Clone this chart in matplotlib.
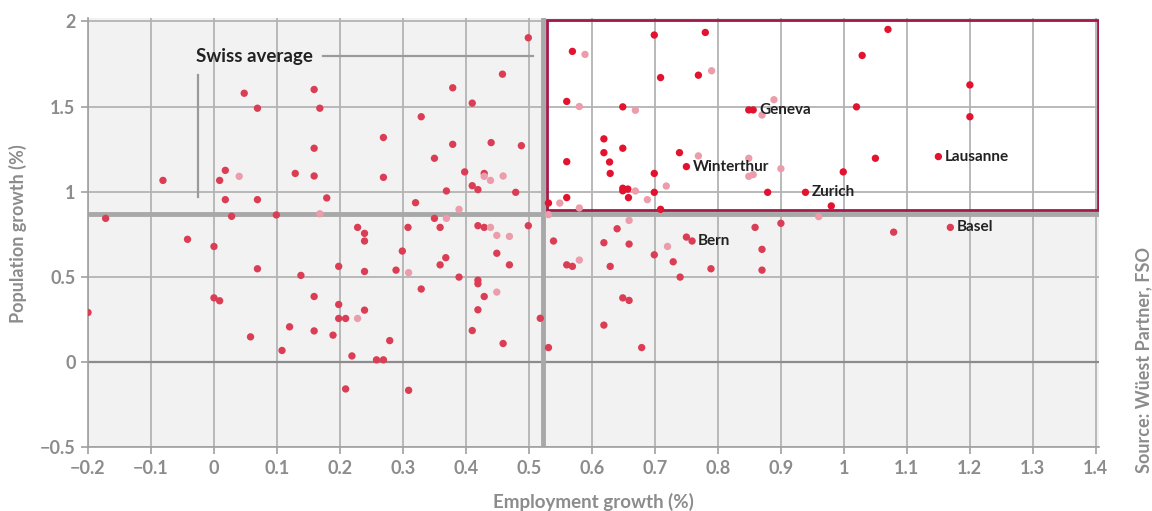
import matplotlib.pyplot as plt
from matplotlib.patches import Rectangle
from matplotlib.ticker import FuncFormatter

plt.rcParams['font.family'] = ['Lato', 'DejaVu Sans']

# regions: employment growth (%) vs population growth (%)
emp = [0.048, 0.069, 0.159, 0.168, 0.159, -0.081, 0.018, 0.009, 0.129, 0.159,
       0.018, 0.069, 0.179, -0.172, 0.028, 0.099, 0.228, 0.239,
       0.499, 0.458, 0.379, 0.41, 0.329, 0.269, 0.379, 0.44, 0.488, 0.35,
       0.269, 0.398, 0.429, 0.41, 0.419, 0.369, 0.479, 0.32, 0.35, 0.308,
       0.359, 0.419, 0.429, 0.499,
       0.569, 0.699, 0.709, 0.560, 0.649, 0.619, 0.619, 0.649, 0.628, 0.560,
       0.629, 0.699, 0.649, 0.657, 0.649, 0.658, 0.699, 0.560, 0.531, 0.709,
       0.780, 1.070, 1.029, 0.769, 0.849, 1.020, 0.739, 0.999, 1.050, 0.879,
       0.980, 0.859, 0.900, 1.079, 1.2, 1.2,
       -0.042, 0.0, 0.069, 0.138, 0.0, 0.009, 0.159, 0.198, 0.239, 0.239,
       0.198, 0.239, 0.198, 0.209, 0.120, 0.159, 0.189, 0.058, 0.108, 0.219,
       0.258, 0.209, -0.2,
       0.299, 0.368, 0.359, 0.289, 0.389, 0.449, 0.469, 0.419, 0.419, 0.329,
       0.429, 0.419, 0.518, 0.41, 0.459, 0.279, 0.269, 0.309, 0.531, 0.539,
       0.560, 0.569, 0.619, 0.640, 0.659, 0.629, 0.649, 0.659, 0.619, 0.679,
       0.699, 0.750, 0.729, 0.740, 0.789, 0.870, 0.870]
pop = [1.578, 1.49, 1.60, 1.49, 1.255, 1.066, 1.125, 1.066, 1.107, 1.092,
       0.953, 0.953, 0.963, 0.843, 0.855, 0.863, 0.79, 0.755,
       1.904, 1.69, 1.61, 1.52, 1.44, 1.318, 1.278, 1.288, 1.27, 1.196,
       1.084, 1.116, 1.107, 1.035, 1.012, 1.004, 0.996, 0.935, 0.843, 0.79,
       0.79, 0.80, 0.79, 0.80,
       1.824, 1.92, 1.67, 1.53, 1.498, 1.31, 1.229, 1.255, 1.174, 1.176,
       1.107, 1.107, 1.02, 1.015, 1.005, 0.965, 0.996, 0.965, 0.933, 0.896,
       1.935, 1.953, 1.80, 1.684, 1.48, 1.498, 1.229, 1.116, 1.196, 0.996,
       0.916, 0.79, 0.814, 0.762, 1.627, 1.44,
       0.72, 0.678, 0.547, 0.508, 0.376, 0.359, 0.384, 0.561, 0.531, 0.71,
       0.337, 0.304, 0.255, 0.255, 0.206, 0.182, 0.157, 0.147, 0.067, 0.035,
       0.012, -0.159, 0.29,
       0.651, 0.612, 0.57, 0.539, 0.498, 0.638, 0.57, 0.48, 0.459, 0.428,
       0.384, 0.306, 0.256, 0.184, 0.108, 0.125, 0.012, -0.167, 0.084, 0.71,
       0.57, 0.561, 0.70, 0.782, 0.692, 0.561, 0.376, 0.361, 0.216, 0.084,
       0.629, 0.733, 0.588, 0.498, 0.547, 0.661, 0.539]

# faint (lighter) points
emp_faint = [0.040, 0.168, 0.429, 0.439, 0.459, 0.389, 0.369, 0.439,
             0.589, 0.580, 0.669, 0.669, 0.688, 0.718, 0.549, 0.580, 0.531,
             0.790, 0.889, 0.870, 0.769, 0.849, 0.849, 0.856, 0.900, 0.96,
             0.228, 0.449, 0.469, 0.309, 0.449, 0.580, 0.659, 0.72]
pop_faint = [1.09, 0.87, 1.09, 1.066, 1.092, 0.896, 0.843, 0.79,
             1.806, 1.50, 1.478, 1.004, 0.953, 1.033, 0.933, 0.904, 0.865,
             1.71, 1.54, 1.45, 1.21, 1.196, 1.09, 1.10, 1.135, 0.853,
             0.255, 0.743, 0.737, 0.524, 0.41, 0.598, 0.831, 0.678]

cities = ['Geneva', 'Winterthur', 'Zurich', 'Lausanne', 'Bern', 'Basel']
city_emp = [0.856, 0.750, 0.939, 1.150, 0.759, 1.169]
city_pop = [1.48, 1.147, 0.996, 1.206, 0.71, 0.79]

avg_emp = 0.522
avg_pop = 0.87

fig = plt.figure(figsize=(11.52, 5.11), dpi=100)
ax = fig.add_axes([88 / 1152, 1 - 447 / 511, 1011 / 1152, 429 / 511])
ax.set_xlim(-0.2, 1.405)
ax.set_ylim(-0.5, 2.02)
ax.set_facecolor('#f2f2f2')

# highlighted quadrant
ax.add_patch(Rectangle((avg_emp + 0.007, avg_pop + 0.02), 1.405 - avg_emp - 0.009,
                       2.01 - avg_pop - 0.02, facecolor='white', edgecolor='none', zorder=0.2))
ax.add_patch(Rectangle((avg_emp + 0.007, avg_pop + 0.02), 1.405 - avg_emp - 0.009,
                       2.01 - avg_pop - 0.02, facecolor='none', edgecolor='#a3194b',
                       lw=2, zorder=3))

ax.set_axisbelow(True)
ax.grid(True, color='#b3b3b3', lw=1.3)
ax.axhline(0, color='#8c8c8c', lw=1.6, zorder=1)
ax.axvline(avg_emp, color='#a8a8a8', lw=3.5, zorder=2)
ax.axhline(avg_pop, color='#a8a8a8', lw=3.5, zorder=2)

all_x = emp + city_emp
all_y = pop + city_pop
cols = ['#e3122f' if (x > avg_emp and y > avg_pop) else '#db3d55' for x, y in zip(all_x, all_y)]
ax.scatter(all_x, all_y, s=28, c=cols, edgecolors='none', zorder=4)
ax.scatter(emp_faint, pop_faint, s=28, c='#ec9caa', edgecolors='none', zorder=4)

for name, x, y in zip(cities, city_emp, city_pop):
    ax.annotate(name, (x, y), xytext=(6, 0), textcoords='offset pixels',
                va='center', ha='left', fontsize=11, fontweight='bold',
                color='#222222', zorder=5)

# Swiss average annotation
ax.text(-0.029, 1.794, 'Swiss average', fontsize=13.5, fontweight='bold',
        color='#222222', va='center', ha='left')
ax.plot([0.173, 0.506], [1.794, 1.794], color='#9a9a9a', lw=1.6)
ax.plot([-0.025, -0.025], [1.688, 0.97], color='#9a9a9a', lw=1.6)

ax.set_xticks([i / 10 for i in range(-2, 15)])
ax.set_yticks([-0.5, 0, 0.5, 1, 1.5, 2])
fmt = FuncFormatter(lambda v, p: f'{v:g}'.replace('-', '\u2212'))
ax.xaxis.set_major_formatter(fmt)
ax.yaxis.set_major_formatter(fmt)
ax.tick_params(direction='out', length=5, width=1.2, color='#a0a0a0',
               labelcolor='#8c8c8c', labelsize=13, pad=4)
for lab in ax.get_xticklabels() + ax.get_yticklabels():
    lab.set_fontweight('bold')

for s in ['top', 'right']:
    ax.spines[s].set_visible(False)
for s in ['left', 'bottom']:
    ax.spines[s].set_color('#a0a0a0')
    ax.spines[s].set_linewidth(1.2)

fig.text(593 / 1152, 1 - 502 / 511, 'Employment growth (%)', ha='center', va='center',
         fontsize=13.5, fontweight='bold', color='#8c8c8c')
fig.text(18 / 1152, 1 - 234 / 511, 'Population growth (%)', ha='center', va='center',
         rotation=90, fontsize=13, fontweight='bold', color='#8c8c8c')
fig.text(1144 / 1152, 1 - 360 / 511, 'Source: W\u00fcest Partner, FSO', ha='center',
         va='center', rotation=90, fontsize=13, fontweight='bold', color='#8c8c8c')

fig.savefig('out.png', dpi=100)
